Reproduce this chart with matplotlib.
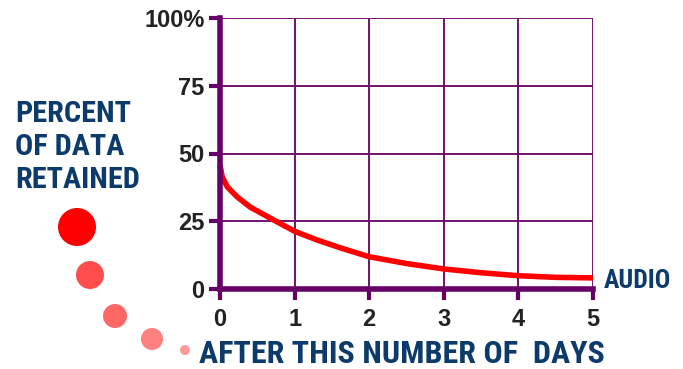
import matplotlib
matplotlib.use("Agg")
import matplotlib.pyplot as plt

days = [0, 0.03, 0.1, 0.23, 0.4, 0.67, 1, 1.3, 1.6, 2, 2.5, 3, 3.5, 4, 4.5, 5]
retained = [45.8, 41.3, 37.6, 34, 30.3, 26.2, 21.3, 18.1, 15.3, 11.9, 9.4, 7.4, 6.0, 4.9, 4.3, 4.1]
x_ticks = [0, 1, 2, 3, 4, 5]
y_ticks = [0, 25, 50, 75, 100]
y_labels = ["0", "25", "50", "75", "100%"]
series_label = "AUDIO"
y_title_lines = ["PERCENT", "OF DATA", "RETAINED"]
x_title = "AFTER THIS NUMBER OF  DAYS"

COND = ["Roboto Condensed", "DejaVu Sans"]
PURPLE = "#660066"
NAVY = "#0b3a6b"
DARK = "#222222"
W, H = 683, 369

fig = plt.figure(figsize=(6.83, 3.69), dpi=100)
ax = fig.add_axes([220/W, 1-289/H, (593-220)/W, (289-18)/H])
ax.set_xlim(0, 5)
ax.set_ylim(0, 100)
ax.set_xticks(x_ticks)
ax.set_yticks(y_ticks)
ax.set_xticklabels([str(t) for t in x_ticks])
ax.set_yticklabels(y_labels)
ax.grid(True, color=PURPLE, linewidth=1.3)
ax.set_axisbelow(True)
for s in ["top", "right"]:
    ax.spines[s].set_visible(False)
for s in ["left", "bottom"]:
    ax.spines[s].set_color(PURPLE)
    ax.spines[s].set_linewidth(4)
ax.tick_params(axis="both", colors=PURPLE, length=8, width=3, pad=3)
ax.tick_params(axis="x", pad=6)
for lab in ax.get_xticklabels() + ax.get_yticklabels():
    lab.set_color(DARK)
    lab.set_fontsize(17)
    lab.set_fontweight("bold")
    lab.set_family("Liberation Sans")
ax.plot(days, retained, color="#ff0000", linewidth=4, solid_joinstyle="round",
        solid_capstyle="butt", clip_on=False)

fig.text(604/W, 1-288/H, series_label, color=NAVY, fontsize=18.5, fontweight="bold",
         family=COND, va="baseline", ha="left")
for i, line in enumerate(y_title_lines):
    fig.text(15/W, 1-(122 + 33*i)/H, line, color=NAVY, fontsize=21.8, fontweight="bold",
             family=COND, va="baseline", ha="left")
fig.text(199/W, 1-363/H, x_title, color=NAVY, fontsize=23, fontweight="bold",
         family=COND, va="baseline", ha="left")

# decorative dots
ov = fig.add_axes([0, 0, 1, 1], zorder=-1)
ov.set_xlim(0, W)
ov.set_ylim(H, 0)
ov.axis("off")
dot_x = [77, 90, 115, 152, 185]
dot_y = [227, 275, 316, 339, 350]
dot_r = [19, 14, 12, 11, 5]
dot_c = ["#ff0000", "#ff4d4d", "#ff6666", "#ff8080", "#ff9999"]
for x, y, r, c in zip(dot_x, dot_y, dot_r, dot_c):
    ov.add_patch(plt.Circle((x, y), r, color=c, lw=0))

fig.savefig("out.png", dpi=100)
